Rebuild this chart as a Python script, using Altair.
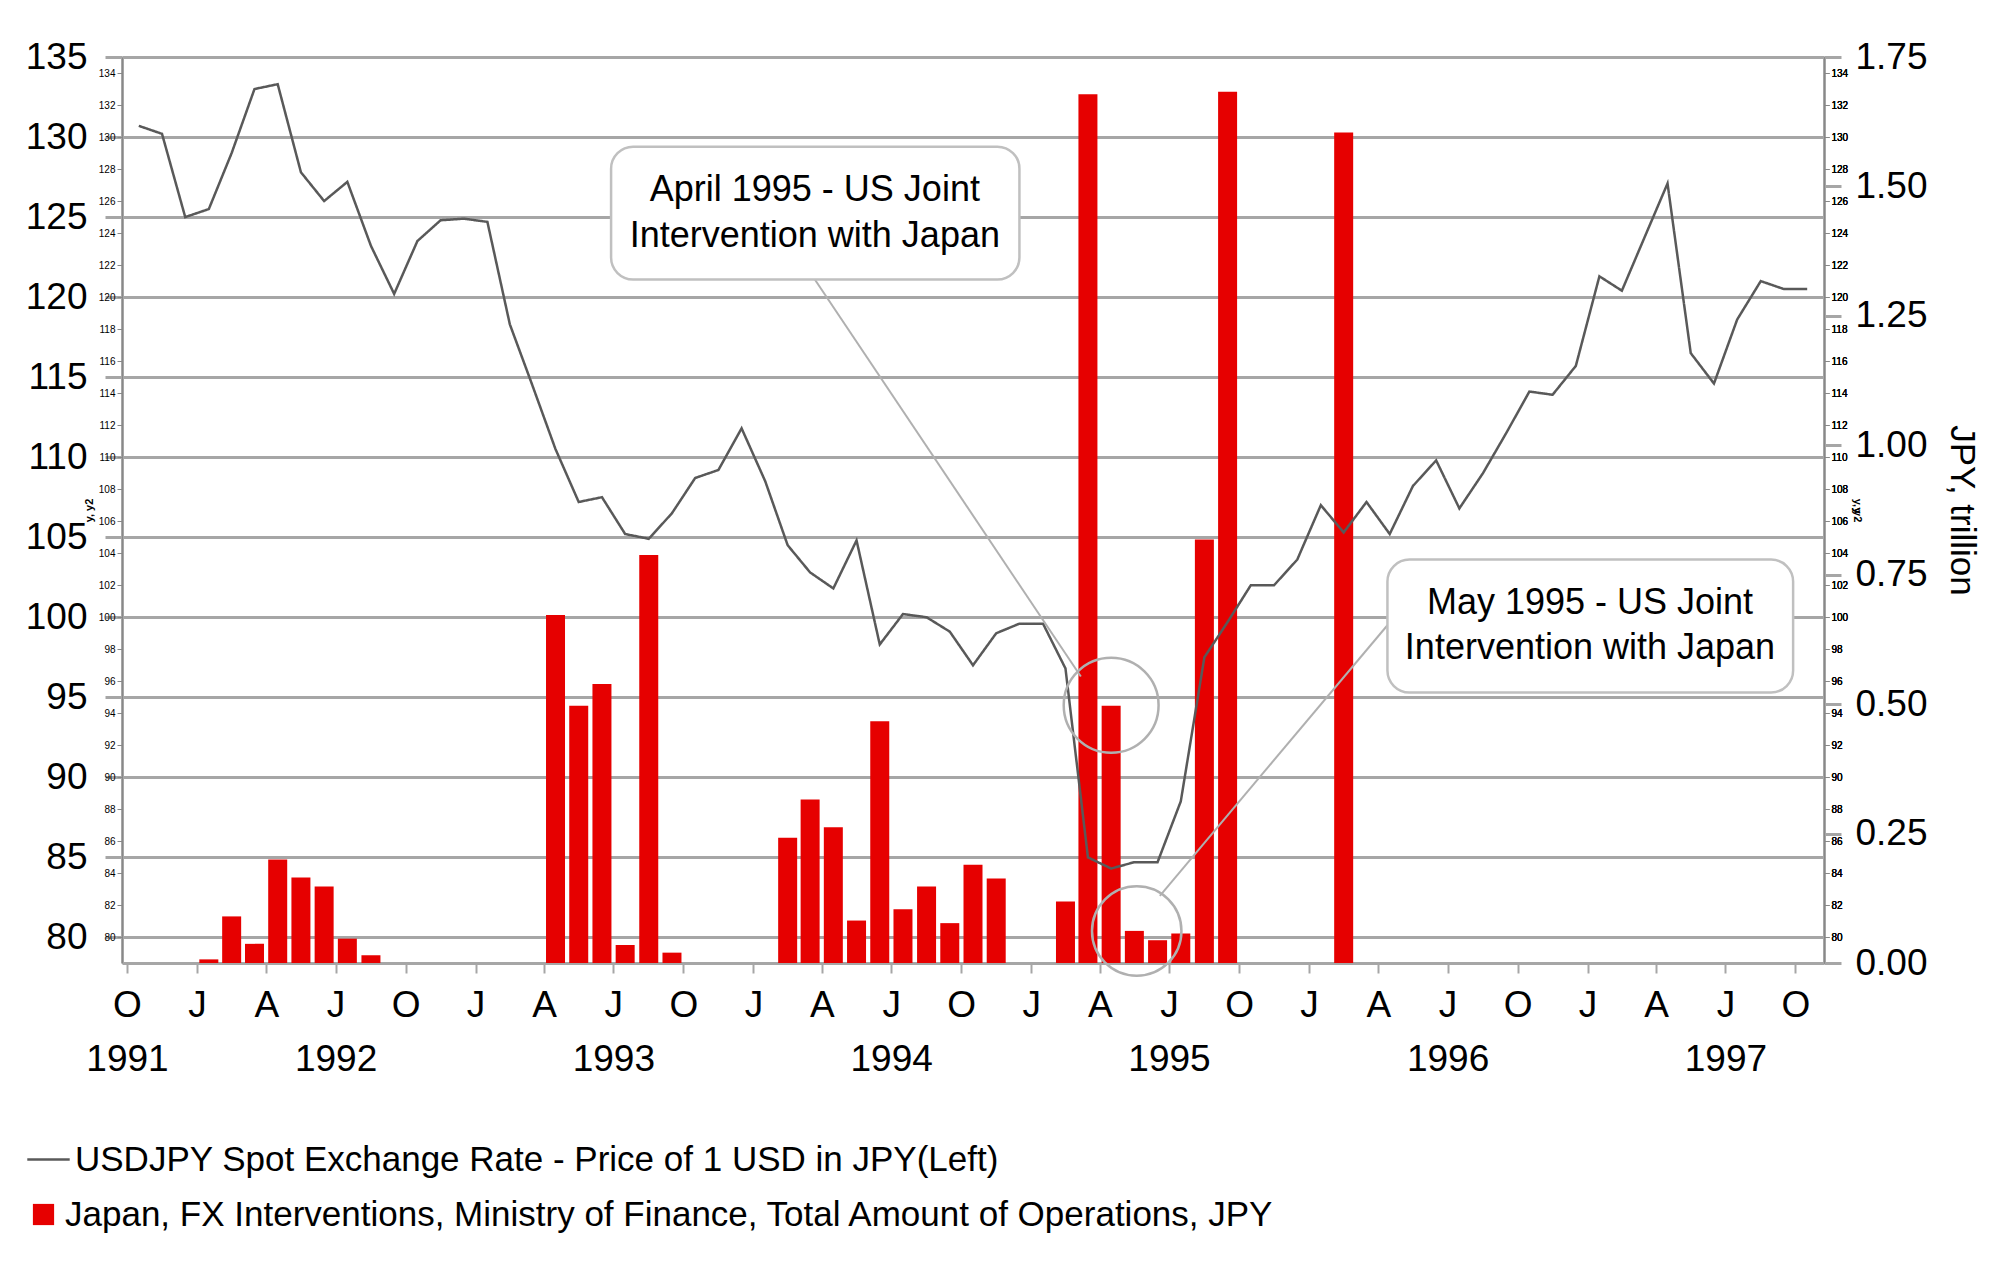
import altair as alt
import pandas as pd

FONT = "Liberation Sans Narrow, Liberation Sans, Arial, sans-serif"
START = pd.Timestamp("1991-10-01")

# USDJPY monthly spot, Oct 1991 .. Oct 1997
usdjpy = [130.7, 130.2, 125.0, 125.5, 129.0, 133.0, 133.3, 127.8, 126.0, 127.2,
          123.2, 120.2, 123.5, 124.8, 124.9, 124.7, 118.3, 114.5, 110.5, 107.2,
          107.5, 105.2, 104.9, 106.5, 108.7, 109.2, 111.8, 108.5, 104.5, 102.8,
          101.8, 104.8, 98.3, 100.2, 100.0, 99.1, 97.0, 99.0, 99.6, 99.6,
          96.8, 85.0, 84.3, 84.7, 84.7, 88.5, 97.5, 99.7, 102.0, 102.0,
          103.6, 107.0, 105.3, 107.2, 105.2, 108.2, 109.8, 106.8, 109.0, 111.5,
          114.1, 113.9, 115.7, 121.3, 120.4, 123.7, 127.1, 116.5, 114.6, 118.6,
          121.0, 120.5, 120.5]

# FX interventions, JPY trillion
fx_months = ["1992-01", "1992-02", "1992-03", "1992-04", "1992-05", "1992-06", "1992-07", "1992-08",
             "1993-04", "1993-05", "1993-06", "1993-07", "1993-08", "1993-09",
             "1994-02", "1994-03", "1994-04", "1994-05", "1994-06", "1994-07", "1994-08",
             "1994-09", "1994-10", "1994-11",
             "1995-02", "1995-03", "1995-04", "1995-05", "1995-06", "1995-07", "1995-08",
             "1995-09", "1996-02"]
fx_values = [0.007, 0.09, 0.037, 0.20, 0.165, 0.148, 0.047, 0.015,
             0.672, 0.497, 0.539, 0.035, 0.788, 0.02,
             0.242, 0.316, 0.262, 0.082, 0.467, 0.104, 0.148,
             0.077, 0.19, 0.163,
             0.119, 1.678, 0.497, 0.062, 0.044, 0.057, 0.818,
             1.683, 1.604]

line_label = "USDJPY Spot Exchange Rate  - Price of 1 USD in JPY(Left)"
bar_label = "Japan, FX Interventions, Ministry of Finance, Total Amount of Operations, JPY"


def ms(m):
    """epoch ms for a fractional month offset from Oct 1991"""
    whole = int(m // 1)
    t0 = START + pd.DateOffset(months=whole)
    t1 = START + pd.DateOffset(months=whole + 1)
    t = t0 + (t1 - t0) * (m - whole)
    return int(t.value // 1_000_000)


def mid(ym):
    t = pd.Timestamp(ym + "-01")
    m = (t.year - START.year) * 12 + t.month - START.month
    return ms(m + 0.5)


line_df = pd.DataFrame({"t": [ms(i + 0.5) for i in range(len(usdjpy))],
                        "rate": usdjpy, "s": line_label})
bar_df = pd.DataFrame({"t": [mid(m) for m in fx_months], "amt": fx_values, "s": bar_label})

xscale = alt.Scale(type="utc", domain=[ms(0), ms(73)])
ticks = [ms(i) for i in range(0, 73, 3)]
lbl = ("[['J','','','A','','','J','','','O','',''][utcmonth(datum.value)],"
       " (utcmonth(datum.value)==6 || (utcyear(datum.value)==1991 && utcmonth(datum.value)==9))"
       " ? '' + utcyear(datum.value) : '']")
xaxis = alt.Axis(values=ticks, labelExpr=lbl, title=None, grid=False, tickSize=10,
                 labelFontSize=37, labelLineHeight=54, labelPadding=14, labelAngle=0,
                 domainColor="#a6a6a6", domainWidth=3, tickColor="#a6a6a6", tickWidth=2)
yleft = alt.Scale(domain=[78.4, 135], nice=False, zero=False)
yright = alt.Scale(domain=[0, 1.75], nice=False)

line = alt.Chart(line_df).mark_line(color="#595959", strokeWidth=2.5).encode(
    x=alt.X("t:T", scale=xscale, axis=xaxis),
    y=alt.Y("rate:Q", scale=yleft,
            axis=alt.Axis(values=list(range(80, 136, 5)), title=None, grid=True,
                          gridColor="#a6a6a6", gridWidth=3, tickSize=17, tickColor="#a6a6a6",
                          tickWidth=3, domainColor="#a6a6a6", domainWidth=3,
                          labelFontSize=37, labelPadding=18)),
    strokeDash=alt.StrokeDash("s:N", scale=alt.Scale(range=[[1, 0]]),
                              legend=alt.Legend(title=None, orient="none", legendX=-96, legendY=1080,
                                                symbolType="stroke", symbolStrokeColor="#595959",
                                                symbolStrokeWidth=2.5, symbolSize=1800,
                                                labelFontSize=35, labelLimit=2000)),
)

bars = alt.Chart(bar_df).mark_bar(width=19).encode(
    x=alt.X("t:T", scale=xscale),
    y=alt.Y("amt:Q", scale=yright,
            axis=alt.Axis(orient="right", values=[0, 0.25, 0.5, 0.75, 1.0, 1.25, 1.5, 1.75],
                          format=".2f", title="JPY, trillion", titleAngle=90, titleFontSize=35,
                          titleFontWeight="normal", titlePadding=16, grid=False, tickSize=17,
                          tickColor="#a6a6a6", tickWidth=3, domainColor="#a6a6a6", domainWidth=3,
                          labelFontSize=37, labelPadding=14)),
    color=alt.Color("s:N", scale=alt.Scale(range=["#e60000"]),
                    legend=alt.Legend(title=None, orient="none", legendX=-96, legendY=1140,
                                      symbolType="square", symbolSize=450,
                                      labelFontSize=35, labelLimit=2000)),
)

# callout boxes, circles and leader lines in data coordinates
boxes = pd.DataFrame({"x": [ms(20.9), ms(54.4)], "x2": [ms(38.5), ms(71.9)],
                      "y": [129.4, 103.6], "y2": [121.1, 95.3]})
box = alt.Chart(boxes).mark_rect(fill="white", stroke="#c0c0c0", strokeWidth=2.5,
                                 cornerRadius=22).encode(
    x="x:T", x2="x2:T", y=alt.Y("y:Q", scale=yleft), y2="y2:Q")

texts = pd.DataFrame({"x": [ms(29.7), ms(29.7), ms(63.1), ms(63.1)],
                      "y": [126.7, 123.8, 100.9, 98.1],
                      "txt": ["April 1995 - US Joint", "Intervention with Japan",
                              "May 1995 - US Joint", "Intervention with Japan"]})
text = alt.Chart(texts).mark_text(fontSize=36, font=FONT, color="black").encode(
    x="x:T", y=alt.Y("y:Q", scale=yleft), text="txt:N")

leaders = pd.DataFrame({"x": [ms(29.7), ms(54.4)], "x2": [ms(41.2), ms(44.6)],
                        "y": [121.1, 99.5], "y2": [96.3, 82.6]})
leader = alt.Chart(leaders).mark_rule(color="#b0b0b0", strokeWidth=2).encode(
    x="x:T", x2="x2:T", y=alt.Y("y:Q", scale=yleft), y2="y2:Q")

circles = pd.DataFrame({"x": [ms(42.5), ms(43.6)], "y": [94.5, 80.4], "sz": [9000, 8000]})
circle = alt.Chart(circles).mark_point(shape="circle", filled=False, stroke="#b0b0b0",
                                       strokeWidth=2.5, opacity=1).encode(
    x="x:T", y=alt.Y("y:Q", scale=yleft), size=alt.Size("sz:Q", scale=None, legend=None))

chart = alt.layer(
    bars, line, leader, circle, box, text
).resolve_scale(
    y="independent", color="independent", strokeDash="independent"
).properties(
    width=1702, height=906, autosize=alt.AutoSizeParams(type="none"),
    padding={"left": 114, "top": 49, "right": 160, "bottom": 300}
).configure(font=FONT).configure_view(stroke=None)

chart.save("out.html", embed_options={"renderer": "svg", "actions": False})
